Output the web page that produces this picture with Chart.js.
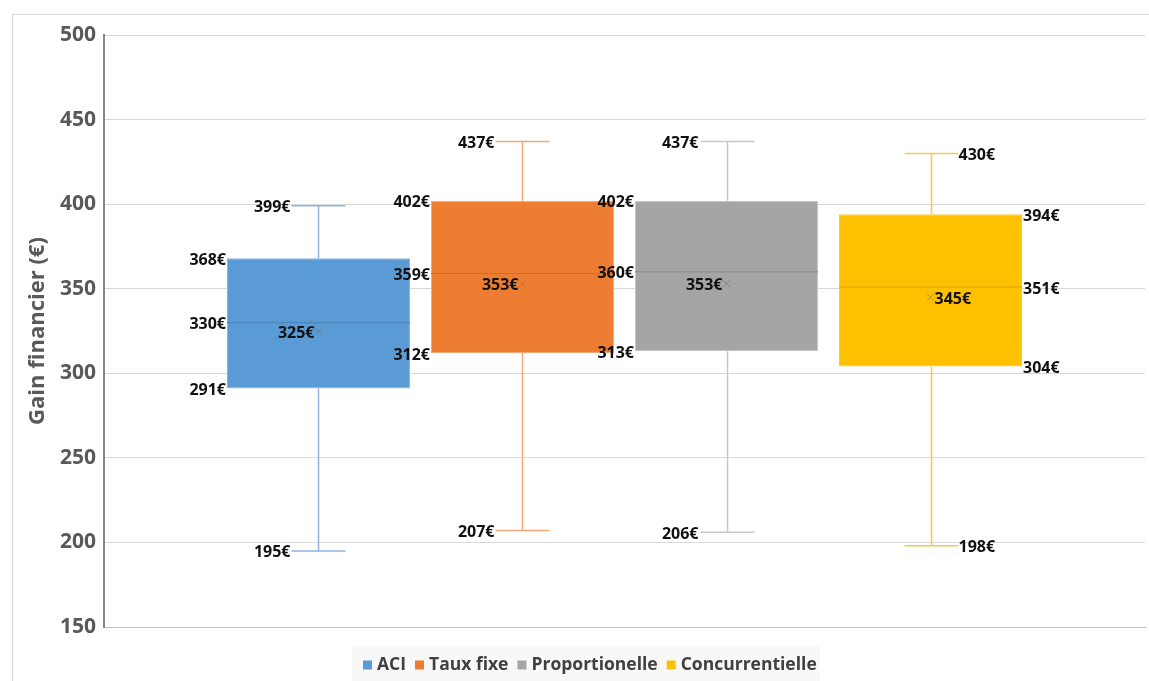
<!DOCTYPE html>
<html>
<head>
<meta charset="utf-8">
<script src="https://cdn.jsdelivr.net/npm/chart.js@4"></script>
<style>
  html, body { margin: 0; padding: 0; background: #fff; overflow: hidden; }
  #frame { position: absolute; left: 12px; top: 14px; width: 2000px; height: 2000px; border: 1px solid #d9d9d9; }
  #wrap { position: absolute; left: 0; top: 0; width: 1149px; height: 681px; }
</style>
</head>
<body>
<div id="frame"></div>
<div id="wrap"><canvas id="box-chart"></canvas></div>
<script>
const series = ['ACI', 'Taux fixe', 'Proportionelle', 'Concurrentielle'];
const minVals = [195, 207, 206, 198];
const q1Vals = [291, 312, 313, 304];
const medianVals = [330, 359, 360, 351];
const q3Vals = [368, 402, 402, 394];
const maxVals = [399, 437, 437, 430];
const meanVals = [325, 353, 353, 345];
const labelSide = ['left', 'left', 'left', 'right'];
const yMin = 150, yMax = 500, yStep = 50;

const fillColors = ['#5b9bd5', '#ed7d31', '#a5a5a5', '#ffc000'];
const whiskerColors = ['#8fb4de', '#f2a97a', '#c8c8c8', '#f3c94f'];
const medianColors = ['#4a84bd', '#cf6a27', '#8f8f8f', '#dca600'];

const labelFont = 'bold 16px "Open Sans"';
const capHalf = 27;

const boxPlugin = {
    id: 'boxParts',
    beforeDatasetsDraw(chart) {
        const ctx = chart.ctx;
        const y = chart.scales.y;
        ctx.save();
        ctx.lineWidth = 1.5;
        series.forEach((s, i) => {
            const bar = chart.getDatasetMeta(i).data[0];
            const x = Math.round(bar.x) + 0.5;
            ctx.strokeStyle = whiskerColors[i];
            ctx.beginPath();
            ctx.moveTo(x, y.getPixelForValue(q3Vals[i]));
            ctx.lineTo(x, y.getPixelForValue(maxVals[i]));
            ctx.moveTo(x - capHalf, y.getPixelForValue(maxVals[i]));
            ctx.lineTo(x + capHalf, y.getPixelForValue(maxVals[i]));
            ctx.moveTo(x, y.getPixelForValue(q1Vals[i]));
            ctx.lineTo(x, y.getPixelForValue(minVals[i]));
            ctx.moveTo(x - capHalf, y.getPixelForValue(minVals[i]));
            ctx.lineTo(x + capHalf, y.getPixelForValue(minVals[i]));
            ctx.stroke();
        });
        ctx.restore();
    },
    afterDatasetsDraw(chart) {
        const ctx = chart.ctx;
        const y = chart.scales.y;
        ctx.save();
        series.forEach((s, i) => {
            const bar = chart.getDatasetMeta(i).data[0];
            const x = bar.x;
            const half = bar.width / 2;
            // median
            const my = y.getPixelForValue(medianVals[i]);
            ctx.strokeStyle = medianColors[i];
            ctx.lineWidth = 1.2;
            ctx.beginPath();
            ctx.moveTo(x - half, my);
            ctx.lineTo(x + half, my);
            ctx.stroke();
            // mean marker
            const ay = y.getPixelForValue(meanVals[i]);
            ctx.strokeStyle = 'rgba(110,110,110,0.55)';
            ctx.lineWidth = 1;
            ctx.beginPath();
            ctx.moveTo(x - 3.5, ay - 3.5);
            ctx.lineTo(x + 3.5, ay + 3.5);
            ctx.moveTo(x + 3.5, ay - 3.5);
            ctx.lineTo(x - 3.5, ay + 3.5);
            ctx.stroke();
        });
        // value labels
        ctx.font = labelFont;
        ctx.fillStyle = '#111';
        ctx.textBaseline = 'middle';
        series.forEach((s, i) => {
            const bar = chart.getDatasetMeta(i).data[0];
            const x = bar.x;
            const half = bar.width / 2;
            const left = labelSide[i] === 'left';
            const dir = left ? -1 : 1;
            ctx.textAlign = left ? 'right' : 'left';
            const items = [
                [maxVals[i], x + dir * (capHalf + 1)],
                [q3Vals[i], x + dir * (half + 1)],
                [medianVals[i], x + dir * (half + 1)],
                [q1Vals[i], x + dir * (half + 1)],
                [minVals[i], x + dir * (capHalf + 1)],
                [meanVals[i], x + dir * 4]
            ];
            items.forEach(([v, lx]) => {
                ctx.fillText(v + '€', lx, y.getPixelForValue(v) + 2);
            });
        });
        ctx.restore();
    },
    afterDraw(chart) {
        // legend
        const ctx = chart.ctx;
        ctx.save();
        ctx.fillStyle = '#f8f8f8';
        ctx.fillRect(352, 646, 468, 40);
        ctx.font = 'bold 17.5px "Open Sans"';
        ctx.textBaseline = 'middle';
        ctx.textAlign = 'left';
        let lx = 363;
        const ly = 665;
        series.forEach((s, i) => {
            ctx.fillStyle = fillColors[i];
            ctx.fillRect(lx, ly - 4.5, 9, 9);
            lx += 14;
            ctx.fillStyle = '#404040';
            ctx.fillText(s, lx, ly);
            lx += ctx.measureText(s).width + 9;
        });
        ctx.restore();
    }
};

const ctx = document.getElementById('box-chart').getContext('2d');
const chart = new Chart(ctx, {
    type: 'bar',
    data: {
        labels: [''],
        datasets: series.map((s, i) => ({
            label: s,
            data: [[q1Vals[i], q3Vals[i]]],
            backgroundColor: fillColors[i],
            borderColor: whiskerColors[i],
            borderWidth: 1,
            borderSkipped: false,
            categoryPercentage: 0.7839,
            barPercentage: 0.897
        }))
    },
    options: {
        responsive: true,
        maintainAspectRatio: false,
        animation: false,
        layout: { padding: { top: 35, right: 4, bottom: 54, left: 0 } },
        plugins: {
            legend: { display: false },
            tooltip: { enabled: false }
        },
        scales: {
            x: {
                ticks: { display: false },
                grid: { display: false, drawTicks: false },
                border: { display: true, color: '#c0c0c0', width: 1 }
            },
            y: {
                min: yMin,
                max: yMax,
                ticks: {
                    stepSize: yStep,
                    padding: 8,
                    color: '#595959',
                    font: { family: 'Open Sans', size: 21, weight: 'bold' }
                },
                grid: { color: '#d9d9d9', lineWidth: 1, drawTicks: false },
                border: { color: '#868686', width: 2 },
                title: {
                    display: true,
                    text: 'Gain financier (€)',
                    color: '#595959',
                    font: { family: 'Open Sans', size: 22, weight: 'bold', lineHeight: 1.2 },
                    padding: { top: 25, bottom: 0 }
                },
                afterFit(scale) { scale.width = 104; }
            }
        }
    },
    plugins: [boxPlugin]
});
</script>
</body>
</html>
